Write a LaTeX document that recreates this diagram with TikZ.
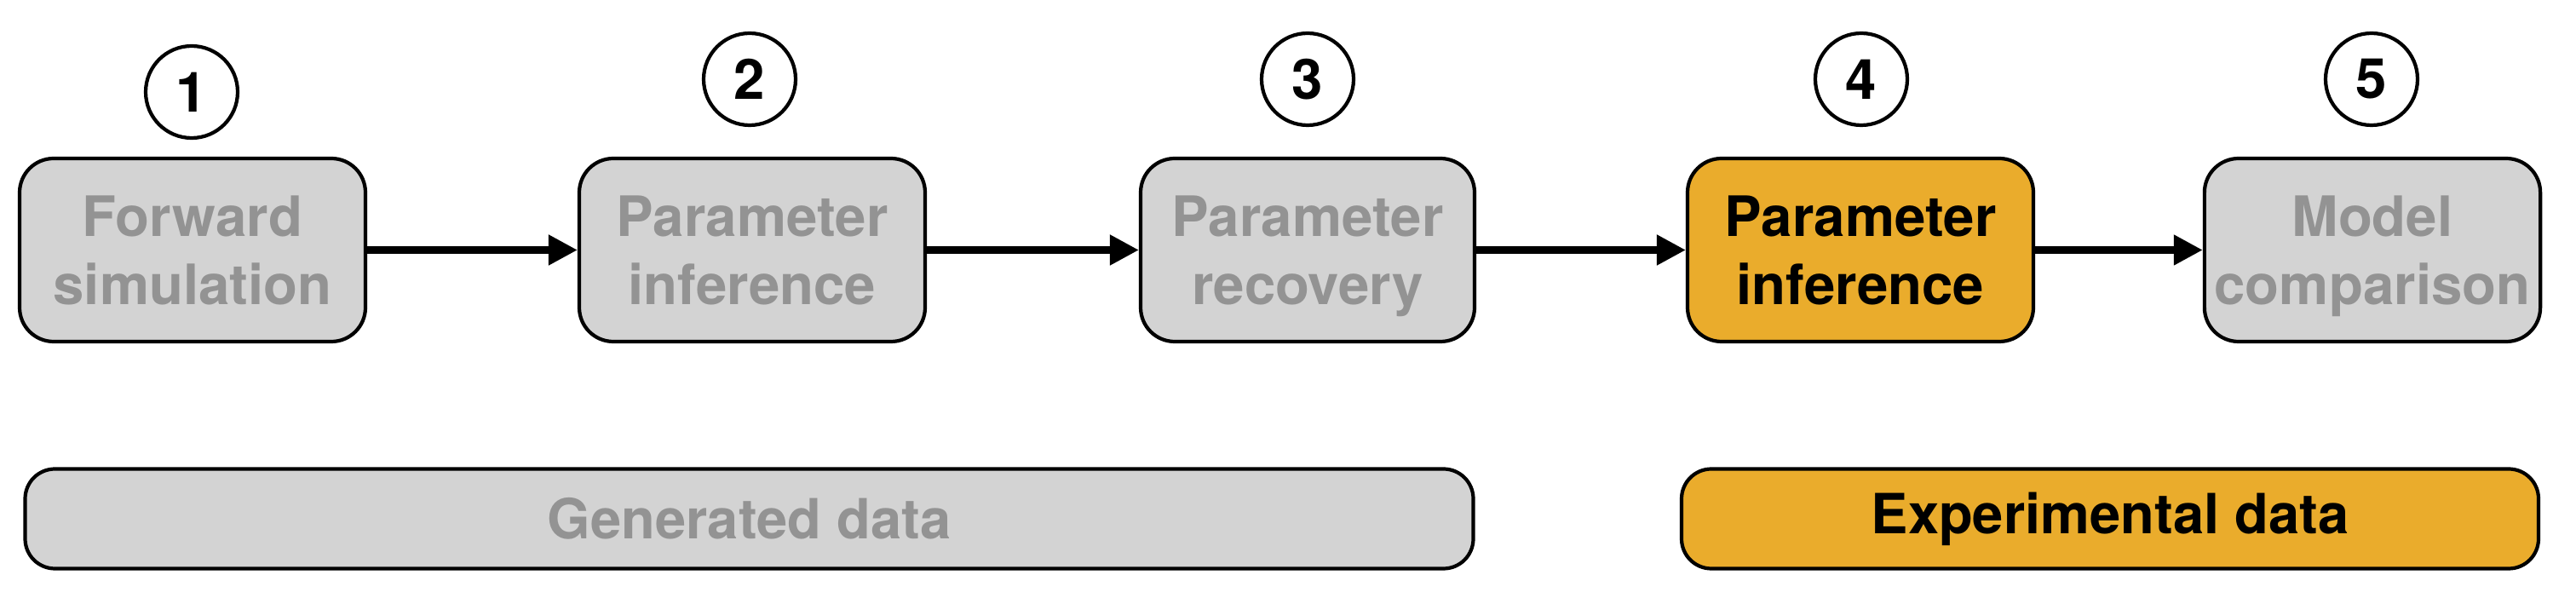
\documentclass[tikz,border=0pt]{standalone}
\usepackage{fontspec}
\setmainfont{TeX Gyre Heros}
\usetikzlibrary{arrows.meta}
\definecolor{boxgray}{RGB}{211,211,211}
\definecolor{textgray}{RGB}{147,147,147}
\definecolor{expyellow}{RGB}{234,172,44}

\begin{document}
\begin{tikzpicture}[
    stepbox/.style={draw, line width=1.2pt, rounded corners=0.4cm, minimum height=2.15cm, align=center, font=\bfseries\fontsize{18.6}{22.8}\selectfont, text height=41.4pt, text depth=5pt},
    simbox/.style={stepbox, fill=boxgray, text=textgray},
    expbox/.style={stepbox, fill=expyellow, text=black},
    numcirc/.style={circle, draw, line width=1.2pt, minimum size=1.08cm, inner sep=0pt, font=\bfseries\fontsize{18.6}{22}\selectfont},
    databox/.style={draw, line width=1.2pt, rounded corners=0.35cm, minimum height=1.17cm, font=\bfseries\fontsize{18.5}{22}\selectfont},
    flow/.style={line width=2.3pt, -{Triangle[length=0.34cm, width=0.34cm]}}]

    \useasboundingbox (0,0) rectangle (30.24,-7.02);

    % Etapas do fluxo
    \node[simbox, minimum width=4.06cm] (b1) at (2.26,-2.935) {Forward\\simulation};
    \node[simbox, minimum width=4.06cm] (b2) at (8.83,-2.935) {Parameter\\inference};
    \node[simbox, minimum width=3.92cm] (b3) at (15.35,-2.935) {Parameter\\recovery};
    \node[expbox, minimum width=4.06cm] (b4) at (21.84,-2.935) {Parameter\\inference};
    \node[simbox, minimum width=3.94cm] (b5) at (27.85,-2.935) {Model\\comparison};

    % Numeros das etapas
    \node[numcirc] (n1) at (2.25,-1.08) {1};
    \node[numcirc] (n2) at (8.80,-0.93) {2};
    \node[numcirc] (n3) at (15.35,-0.93) {3};
    \node[numcirc] (n4) at (21.85,-0.93) {4};
    \node[numcirc] (n5) at (27.84,-0.93) {5};

    % Setas
    \draw[flow] (b1) -- (b2);
    \draw[flow] (b2) -- (b3);
    \draw[flow] (b3) -- (b4);
    \draw[flow] (b4) -- (b5);

    % Tipos de dados
    \node[databox, fill=boxgray, text=textgray, minimum width=17.0cm] (gen) at (8.795,-6.09) {Generated data};
    \node[databox, fill=expyellow, text=black, minimum width=10.06cm] (exp) at (24.77,-6.09) {Experimental data};
\end{tikzpicture}
\end{document}
